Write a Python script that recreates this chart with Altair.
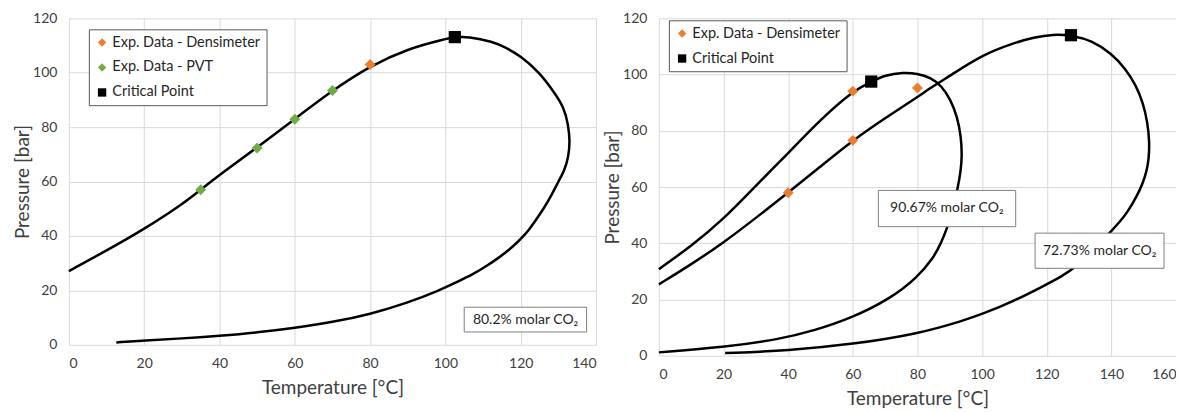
import altair as alt
import pandas as pd

# ---------------- Left panel: 80.2 % molar CO2 ----------------
left_T = [0, 10, 20, 30, 35, 40, 50, 60, 70, 80, 90, 100, 102.5, 106, 112.6, 116, 120, 124.9,
          128.7, 131.5, 132.6, 133.1, 132.7, 131.6, 130, 128.2, 126.1, 123.6, 122.3, 120.8, 119,
          117, 114.2, 111.2, 107.5, 103, 98.4, 90, 80, 70, 60, 50, 40, 30, 20, 12.6]
left_P = [27.1, 34.6, 42.5, 51.5, 57, 62.5, 72.5, 83, 93.5, 102.5, 108.8, 112.4, 113.1, 113.3, 111.4, 109.3, 106.1, 100.2,
          93.2, 87.3, 81, 75, 69, 64, 60, 55, 50, 45, 42.5, 40, 37.5,
          35, 32, 29.2, 26, 23, 20, 15.4, 11.2, 8.3, 6.2, 4.5, 3.3, 2.3, 1.6, 0.85]

left_pvt_T = [35, 50, 60, 70]
left_pvt_P = [57, 72.3, 82.9, 93.5]
left_dens_T = [80]
left_dens_P = [103]
left_crit_T = [102.5]
left_crit_P = [113.1]

left_label = ["80.2% molar CO₂"]
left_label_T = [121.3]
left_label_P = [9.2]
left_box_T = [105, 137.5]
left_box_P = [4.7, 13.8]

# ---------------- Right panel: 90.67 % and 72.73 % molar CO2 ----------------
a_T = [0, 10, 20, 30, 40, 50, 60, 65.7, 70, 75.5, 80, 84, 87.5, 90.3, 92.3, 93.5, 93.8, 93.4, 92.4,
       91, 89.2, 87.3, 85, 80, 71.3, 60, 48, 37.5, 20, 0]
a_P = [30.8, 39, 48.5, 60.5, 72, 84, 94.1, 97.5, 99.8, 100.8, 100.4, 99, 96, 91, 85, 78, 71, 65.7, 59.2,
       52, 45.5, 40, 34.9, 27.8, 20.1, 13.6, 8.9, 5.9, 3.0, 1.2]

b_T = [0, 10, 20, 30, 40, 50, 60, 70, 80, 85, 90, 100, 110, 116, 122, 127.5, 133.9, 140,
       144.4, 147.6, 149.8, 151.2, 151.8, 151.6, 150.9, 149.6, 148, 145, 142.5, 140,
       134.5, 128.8, 124.5, 120, 110, 100, 94.5, 80, 60, 40, 20.5]
b_P = [25.4, 32.5, 40.2, 49, 58, 67.3, 76.6, 84.5, 92, 96, 99.5, 107, 111.3, 113.2, 114.3, 114, 112.2, 107.5,
       102.1, 96.2, 90, 83, 76, 70, 65.5, 61, 57, 51, 47.5, 44.4,
       37.5, 31.3, 28.2, 25.4, 19.5, 14.8, 12.6, 7.7, 4.1, 1.8, 0.95]

right_dens_T = [40, 60, 60, 80]
right_dens_P = [58, 76.6, 94.1, 95.2]
right_crit_T = [65.7, 127.5]
right_crit_P = [97.5, 114]

right_labels = ["90.67% molar CO₂", "72.73% molar CO₂"]
right_label_T = [89.1, 136.4]
right_label_P = [52.4, 37.3]
right_box_T1 = [67.9, 116.4]
right_box_T2 = [110.4, 156.3]
right_box_P1 = [45.9, 31.1]
right_box_P2 = [58.8, 43.6]

DENS = "Exp. Data - Densimeter"
PVT = "Exp. Data - PVT"
CRIT = "Critical Point"
ORANGE = "#ED7D31"
GREEN = "#70AD47"
TXT = "#404040"
FONT = "Lato"


def curve_df(name, T, P):
    return pd.DataFrame({"curve": name, "idx": range(len(T)), "T": T, "P": P})


def pts_df(series, T, P):
    return pd.DataFrame({"series": series, "T": T, "P": P})


def panel(curves, pts, domain, colors, shapes, ann, boxes, xmax, w, h, lx, ly):
    x = alt.X("T:Q", scale=alt.Scale(domain=[0, xmax], nice=False),
              axis=alt.Axis(values=list(range(0, xmax + 1, 20)), title="Temperature [°C]"))
    y = alt.Y("P:Q", scale=alt.Scale(domain=[0, 120], nice=False),
              axis=alt.Axis(values=list(range(0, 121, 20)), title="Pressure [bar]"))
    lines = alt.Chart(curves).mark_line(color="black", strokeWidth=2.5,
                                        interpolate="basis").encode(
        x=x, y=y, detail="curve:N", order="idx:Q")
    points = alt.Chart(pts).mark_point(filled=True, opacity=1).encode(
        x=x, y=y,
        color=alt.Color("series:N", scale=alt.Scale(domain=domain, range=colors),
                        legend=alt.Legend(title=None, orient="none", legendX=lx, legendY=ly,
                                          strokeColor="#595959", fillColor="white", padding=6,
                                          labelFontSize=14.5, labelFont=FONT, labelColor="#262626",
                                          labelLimit=400,
                                          symbolSize=70, rowPadding=10, labelOffset=3,
                                          symbolStrokeWidth=0)),
        shape=alt.Shape("series:N", scale=alt.Scale(domain=domain, range=shapes)),
        size=alt.condition(alt.datum.series == CRIT, alt.value(150), alt.value(120)),
    )
    rects = alt.Chart(boxes).mark_rect(fill="white", stroke="#7F7F7F", strokeWidth=1).encode(
        x="T1:Q", x2="T2", y="P1:Q", y2="P2")
    texts = alt.Chart(ann).mark_text(font=FONT, fontSize=14, color="#262626").encode(
        x="T:Q", y="P:Q", text="label:N")
    return alt.layer(lines, points, rects, texts).properties(width=w, height=h)


left_curves = curve_df("c80", left_T, left_P)
left_pts = pd.concat([pts_df(PVT, left_pvt_T, left_pvt_P),
                      pts_df(DENS, left_dens_T, left_dens_P),
                      pts_df(CRIT, left_crit_T, left_crit_P)])
left_ann = pd.DataFrame({"label": left_label, "T": left_label_T, "P": left_label_P})
left_boxes = pd.DataFrame({"T1": [left_box_T[0]], "T2": [left_box_T[1]],
                           "P1": [left_box_P[0]], "P2": [left_box_P[1]]})

right_curves = pd.concat([curve_df("c90", a_T, a_P), curve_df("c72", b_T, b_P)])
right_pts = pd.concat([pts_df(DENS, right_dens_T, right_dens_P),
                       pts_df(CRIT, right_crit_T, right_crit_P)])
right_ann = pd.DataFrame({"label": right_labels, "T": right_label_T, "P": right_label_P})
right_boxes = pd.DataFrame({"T1": right_box_T1, "T2": right_box_T2,
                            "P1": right_box_P1, "P2": right_box_P2})

left = panel(left_curves, left_pts, [DENS, PVT, CRIT], [ORANGE, GREEN, "black"],
             ["diamond", "diamond", "square"], left_ann, left_boxes, 140, 528, 327, 20, 11)
right = panel(right_curves, right_pts, [DENS, CRIT], [ORANGE, "black"],
              ["diamond", "square"], right_ann, right_boxes, 160, 518, 338, 10, 2)

chart = alt.hconcat(left, right, spacing=7).resolve_scale(
    color="independent", shape="independent", x="independent"
).properties(
    padding={"left": 5, "top": 3, "right": 0, "bottom": 0}
).configure_view(stroke=None).configure_axis(
    gridColor="#D9D9D9", gridWidth=1, domain=False, ticks=False,
    labelFont=FONT, labelFontSize=14, labelColor=TXT,
    titleFont=FONT, titleFontSize=19, titleColor=TXT, titleFontWeight="normal",
).configure_axisX(labelPadding=12, titlePadding=8).configure_axisY(labelPadding=12, titlePadding=0)

chart.save("out.html", embed_options={"renderer": "svg", "actions": False})
